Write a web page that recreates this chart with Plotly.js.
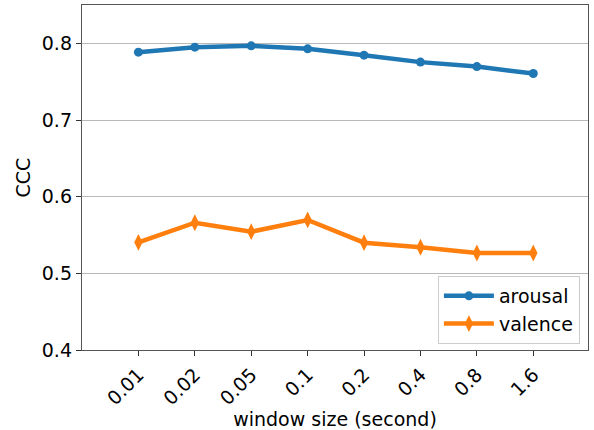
<!DOCTYPE html>
<html><head><meta charset="utf-8">
<script src="https://cdn.plot.ly/plotly-3.0.1.min.js"></script>
<style>body{margin:0;padding:0;background:#fff}#chart{width:594px;height:430px}</style>
</head><body><div id="chart"></div>
<script>
const categories = ["0.01","0.02","0.05","0.1","0.2","0.4","0.8","1.6"];
const arousal = [0.7885, 0.795, 0.7967, 0.7928, 0.7846, 0.7755, 0.7697, 0.7606];
const valence = [0.5405, 0.566, 0.5543, 0.5696, 0.540, 0.534, 0.5265, 0.5265];
const yTicks = [0.4, 0.5, 0.6, 0.7, 0.8];
const idx = categories.map((c,i)=>i);

const font = {family: "DejaVu Sans, sans-serif", size: 19, color: "#000"};
const traces = [
  {x: idx, y: arousal, name: "arousal", mode: "lines+markers",
   line: {color: "#1f77b4", width: 4.5}, marker: {symbol: "circle", size: 9, color: "#1f77b4"}},
  {x: idx, y: valence, name: "valence", mode: "lines+markers",
   line: {color: "#ff7f0e", width: 4.5}, marker: {symbol: "diamond-tall", size: 12, color: "#ff7f0e"}}
];
const layout = {
  width: 594, height: 430,
  margin: {l: 82, r: 6, t: 5, b: 80},
  paper_bgcolor: "#fff", plot_bgcolor: "#fff",
  font: font,
  showlegend: true,
  legend: {x: 0.984, y: 0.2145, xanchor: "right", yanchor: "top",
           bgcolor: "rgba(255,255,255,0.8)", bordercolor: "#cccccc", borderwidth: 1,
           tracegroupgap: 0, itemwidth: 50,
           font: {family: "DejaVu Sans, sans-serif", size: 19, color: "#000"}},
  xaxis: {
    range: [-1, 7.97], tickmode: "array", tickvals: idx, ticktext: categories,
    tickangle: -45, showgrid: false, zeroline: false,
    showline: true, mirror: true, linecolor: "#555", linewidth: 1.2,
    ticks: "outside", ticklen: 5, tickcolor: "#333",
    tickfont: font,
    title: {text: "window size (second)", font: font, standoff: 6}
  },
  yaxis: {
    range: [0.4, 0.85], tickmode: "array", tickvals: yTicks, ticktext: yTicks.map(v=>v.toFixed(1)),
    showgrid: true, gridcolor: "#b8b8b8", gridwidth: 1, zeroline: false,
    showline: true, mirror: true, linecolor: "#555", linewidth: 1.2,
    ticks: "outside", ticklen: 5, tickcolor: "#333",
    tickfont: font,
    title: {text: "CCC", font: font, standoff: 6}
  }
};
Plotly.newPlot("chart", traces, layout, {staticPlot: true, displayModeBar: false});
</script></body></html>
